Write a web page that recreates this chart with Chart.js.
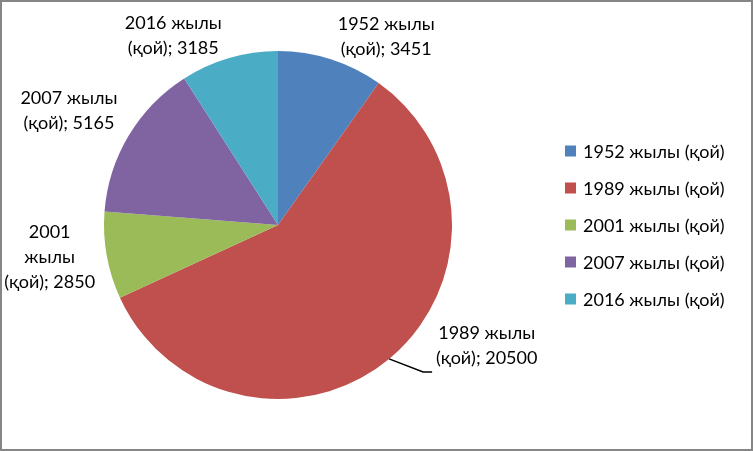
<!DOCTYPE html>
<html>
<head>
<meta charset="utf-8">
<script src="https://cdn.jsdelivr.net/npm/chart.js@4"></script>
<style>
  html, body { margin: 0; padding: 0; background: #fff; }
  #wrap { width: 753px; height: 451px; }
</style>
</head>
<body>
<div id="wrap"><canvas id="sheep-chart" width="753" height="451"></canvas></div>
<script>
const categories = ['1952 жылы (қой)', '1989 жылы (қой)', '2001 жылы (қой)', '2007 жылы (қой)', '2016 жылы (қой)'];
const sheepCounts = [3451, 20500, 2850, 5165, 3185];

const sliceColors = ['#4F81BD', '#C0504D', '#9BBB59', '#8064A2', '#4BACC6'];
const FONT = '18px Lato, "Noto Sans", sans-serif';

// label tweaks (pixels), relative to the default spot outside each slice
const labelShift = [[-1, 2], [0, 0], [14, -3], [11, -12], [0, 3]];
const splitYear = [false, false, true, false, false];

function labelLines(i) {
	const year = categories[i].replace(' (қой)', '');
	const last = '(қой); ' + sheepCounts[i];
	return splitYear[i] ? year.split(' ').concat([last]) : [year, last];
}

const extras = {
	id: 'extras',
	afterDraw(chart) {
		const ctx = chart.ctx;
		const arcs = chart.getDatasetMeta(0).data;
		ctx.save();
		ctx.font = FONT;
		ctx.fillStyle = '#000';
		ctx.textBaseline = 'middle';
		ctx.textAlign = 'center';
		const lh = 25;

		arcs.forEach((arc, i) => {
			const p = arc.getProps(['x', 'y', 'startAngle', 'endAngle', 'outerRadius'], true);
			const a = (p.startAngle + p.endAngle) / 2;
			const lines = labelLines(i);
			const w = Math.max(...lines.map(l => ctx.measureText(l).width));
			const h = lines.length * lh;
			let left, cy;
			if (i === 1) {
				// big slice: label pulled out with a leader line
				const ex = p.x + p.outerRadius * Math.cos(a);
				const ey = p.y + p.outerRadius * Math.sin(a);
				ctx.strokeStyle = '#000';
				ctx.lineWidth = 1.5;
				ctx.beginPath();
				ctx.moveTo(ex, ey);
				ctx.lineTo(ex + 34, ey + 13);
				ctx.lineTo(ex + 43, ey + 13);
				ctx.stroke();
				left = ex + 47;
				cy = ey - 13;
			} else {
				const R = p.outerRadius + 26;
				const ax = p.x + R * Math.cos(a);
				const ay = p.y + R * Math.sin(a);
				left = Math.cos(a) >= 0 ? ax : ax - w;
				left += labelShift[i][0];
				cy = ay + labelShift[i][1];
			}
			lines.forEach((l, k) => {
				ctx.fillText(l, left + w / 2, cy - h / 2 + lh / 2 + k * lh);
			});
		});

		// legend
		ctx.textAlign = 'left';
		categories.forEach((c, i) => {
			const y = 151 + i * 37;
			ctx.fillStyle = sliceColors[i];
			ctx.fillRect(565, y - 5.5, 11, 11);
			ctx.fillStyle = '#000';
			ctx.fillText(c, 583, y + 1);
		});

		// chart frame
		ctx.strokeStyle = '#868686';
		ctx.lineWidth = 2;
		ctx.strokeRect(1, 1, chart.width - 2, chart.height - 2);
		ctx.restore();
	}
};

new Chart(document.getElementById('sheep-chart'), {
	type: 'pie',
	data: {
		labels: categories,
		datasets: [
			{
				data: sheepCounts,
				backgroundColor: sliceColors,
				borderWidth: 0,
				hoverOffset: 0
			}
		]
	},
	options: {
		responsive: false,
		animation: false,
		devicePixelRatio: 1,
		layout: {
			padding: { left: 104, top: 51, right: 301, bottom: 52 }
		},
		plugins: {
			legend: { display: false },
			tooltip: { enabled: false }
		}
	},
	plugins: [extras]
});
</script>
</body>
</html>
